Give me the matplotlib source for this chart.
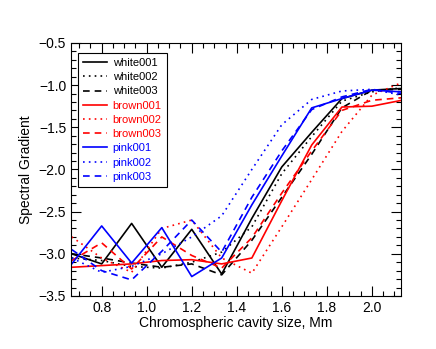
import numpy as np
import matplotlib
matplotlib.use("Agg")
from matplotlib import pyplot as plt
from matplotlib.ticker import MultipleLocator

plt.rcParams['font.family'] = ['Liberation Sans', 'DejaVu Sans']

# cavity size grid (Mm)
cavity_size = [0.667, 0.800, 0.933, 1.067, 1.200, 1.333,
               1.467, 1.600, 1.733, 1.867, 2.000, 2.133]

white001 = [-3.00, -3.12, -2.64, -3.16, -2.71, -3.24, -2.58, -1.97, -1.56, -1.16, -1.06, -1.04]
white002 = [-3.05, -3.08, -3.15, -3.17, -3.10, -2.98, -2.68, -2.05, -1.61, -1.19, -1.08, -1.03]
white003 = [-3.00, -3.05, -3.11, -3.16, -3.12, -3.25, -2.84, -2.33, -1.82, -1.27, -1.06, -1.05]
brown001 = [-3.16, -3.14, -3.12, -3.08, -3.07, -3.12, -3.05, -2.37, -1.71, -1.26, -1.25, -1.18]
brown002 = [-2.80, -3.05, -3.22, -2.70, -2.60, -3.05, -3.23, -2.68, -2.12, -1.55, -1.12, -0.97]
brown003 = [-3.08, -2.87, -3.18, -2.80, -3.02, -3.17, -2.81, -2.28, -1.78, -1.30, -1.18, -1.15]
pink001 = [-3.12, -2.67, -3.11, -2.69, -3.27, -3.05, -2.42, -1.84, -1.27, -1.16, -1.06, -1.08]
pink002 = [-3.05, -3.22, -3.15, -3.00, -2.80, -2.55, -2.00, -1.47, -1.17, -1.07, -1.05, -1.12]
pink003 = [-2.95, -3.20, -3.31, -2.97, -2.60, -2.98, -2.33, -1.78, -1.29, -1.14, -1.05, -1.10]

series = [
    ('white001', white001, 'black', '-'),
    ('white002', white002, 'black', (0, (1, 2.5))),
    ('white003', white003, 'black', (0, (4, 3))),
    ('brown001', brown001, 'red', '-'),
    ('brown002', brown002, 'red', (0, (1, 2.5))),
    ('brown003', brown003, 'red', (0, (4, 3))),
    ('pink001', pink001, 'blue', '-'),
    ('pink002', pink002, 'blue', (0, (1, 2.5))),
    ('pink003', pink003, 'blue', (0, (4, 3))),
]

fig = plt.figure(figsize=(4.36, 3.49), dpi=100)
ax = fig.add_axes([0.163, 0.152, 0.757, 0.725])

for name, vals, col, ls in series:
    ax.plot(cavity_size, vals, color=col, linestyle=ls, linewidth=1.2, label=name)

ax.set_xlim(0.664, 2.13)
ax.set_ylim(-3.5, -0.5)
ax.xaxis.set_major_locator(MultipleLocator(0.2))
ax.xaxis.set_minor_locator(MultipleLocator(0.05))
ax.yaxis.set_major_locator(MultipleLocator(0.5))
ax.yaxis.set_minor_locator(MultipleLocator(0.1))
ax.tick_params(which='both', direction='in', top=True, right=True, labelsize=10)
ax.tick_params(which='major', length=7, width=0.8)
ax.tick_params(which='minor', length=3.5, width=0.8)
for s in ax.spines.values():
    s.set_linewidth(0.8)

ax.set_xlabel('Chromospheric cavity size, Mm', fontsize=10, labelpad=1)
ax.set_ylabel('Spectral Gradient', fontsize=10)

leg = ax.legend(loc='upper left', bbox_to_anchor=(0.02, 0.96), borderaxespad=0,
                fontsize=8, handlelength=2.2, handletextpad=0.5,
                labelspacing=0.38, fancybox=False, framealpha=1,
                edgecolor='black', borderpad=0.45)
leg.get_frame().set_linewidth(0.8)
for txt, (name, vals, col, ls) in zip(leg.get_texts(), series):
    txt.set_color(col)

fig.savefig('out.png', dpi=100)
